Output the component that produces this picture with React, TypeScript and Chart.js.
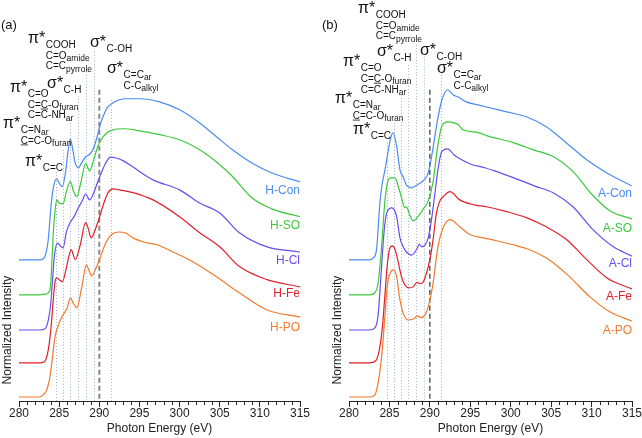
import React, { useEffect, useRef } from 'react';
import { Chart, registerables } from 'chart.js';
Chart.register(...registerables);

const FONT = '"Liberation Sans", Arial, sans-serif';

// ---------- data (energy eV, normalized intensity above own baseline) ----------
const H_CON = [[280,0],[282.5,0],[283.1,0.05],[283.45,0.29],[283.65,0.6],[283.86,1.2],[284.0,1.6],[284.3,2.12],[284.7,2.35],[285.0,2.23],[285.4,2.12],[285.8,2.55],[286.1,3.13],[286.4,3.5],[286.7,3.19],[287.0,2.81],[287.4,2.67],[287.8,2.81],[288.3,2.99],[288.7,3.04],[289.2,3.19],[289.7,3.54],[290.1,3.91],[290.5,4.17],[291.0,4.41],[291.5,4.52],[292.5,4.64],[293.4,4.67],[295,4.67],[297.5,4.58],[300,4.35],[302.5,3.97],[304.6,3.57],[306.6,3.19],[309,2.81],[311.5,2.52],[315,2.26]];
const H_SO = [[280,0],[282.5,0],[283.3,0.02],[283.86,0.14],[284.07,0.82],[284.27,1.8],[284.5,2.46],[284.7,2.75],[285.1,2.64],[285.5,2.64],[285.9,2.99],[286.4,3.28],[286.8,2.99],[287.2,2.84],[287.7,3.25],[288.3,3.8],[288.8,3.59],[289.3,3.91],[289.8,4.29],[290.3,4.52],[291,4.7],[291.7,4.78],[293,4.81],[295,4.75],[297.5,4.64],[300,4.49],[302.5,4.2],[305,3.77],[306.5,3.45],[309,2.81],[311.5,2.49],[315,2.26]];
const H_CL = [[280,0],[282.5,0],[283.2,0.03],[283.65,0.29],[284.0,0.87],[284.15,1.36],[284.4,2.13],[284.8,2.52],[285.2,2.43],[285.5,2.38],[285.9,2.84],[286.4,3.13],[286.9,3.3],[287.3,3.5],[287.9,3.75],[288.3,3.94],[288.8,3.77],[289.3,3.97],[289.8,4.29],[290.3,4.58],[290.8,4.84],[291.4,5.01],[292.0,4.99],[293,4.9],[294.2,4.72],[296.7,4.35],[300,4.06],[302.5,3.68],[305,3.39],[307.5,2.81],[310.9,2.41],[315,2.26]];
const H_FE = [[280,0],[282.5,0],[283.2,0.04],[283.65,0.38],[284.0,1.05],[284.27,1.83],[284.5,2.36],[284.7,2.46],[285.0,2.41],[285.4,2.35],[285.9,2.75],[286.5,3.28],[287.0,2.99],[287.6,3.39],[288.3,4.06],[288.6,3.91],[289.0,3.62],[289.5,3.86],[290.0,4.2],[290.5,4.58],[291.1,4.93],[291.7,5.04],[292.5,5.01],[294.2,4.93],[296.7,4.72],[300,4.23],[302.5,3.77],[305,3.36],[307.5,2.78],[310.9,2.41],[315,2.2]];
const H_PO = [[280,0],[282.5,0],[283.0,0.06],[283.45,0.2],[283.86,0.6],[284.15,1.1],[284.45,1.7],[284.75,1.97],[285.1,2.2],[285.5,2.38],[286.0,2.58],[286.4,2.87],[286.8,2.7],[287.2,2.58],[287.8,3.16],[288.4,3.83],[288.7,3.68],[289.05,3.51],[289.6,3.74],[290.1,4.03],[290.8,4.46],[291.5,4.7],[292.4,4.78],[293.3,4.75],[294.2,4.61],[295.5,4.49],[297.2,4.41],[299.2,4.2],[301.7,3.91],[304.6,3.48],[307.5,3.01],[310.9,2.52],[315,2.32]];

const A_CON = [[280,0],[282.5,0],[283.0,0.06],[283.4,0.29],[283.8,1.6],[284.1,2.2],[284.45,2.61],[284.7,2.95],[285.1,3.48],[285.45,3.68],[285.9,3.28],[286.3,2.61],[286.7,2.41],[287.1,2.17],[287.7,2.09],[288.2,2.14],[288.8,2.23],[289.3,2.32],[289.8,2.52],[290.4,3.25],[291.0,4.12],[291.5,4.64],[292.2,4.93],[292.9,4.78],[293.5,4.72],[294.5,4.58],[296,4.49],[297,4.43],[299.5,4.29],[302,4.14],[304.4,3.86],[306.9,3.39],[309.4,2.9],[311.9,2.52],[315,2.14]];
const A_SO = [[280,0],[282.5,0],[283.2,0.06],[283.6,0.35],[284.0,1.3],[284.4,2.61],[284.7,3.19],[285.1,3.39],[285.7,3.39],[286.1,3.13],[286.5,2.81],[286.9,2.52],[287.1,2.55],[287.5,2.32],[287.95,2.14],[288.6,2.29],[289.2,2.49],[289.8,2.72],[290.4,3.28],[291.0,4.35],[291.5,4.9],[292.2,5.01],[293.5,4.93],[294.1,4.78],[296,4.7],[297,4.61],[300.3,4.41],[302.8,4.2],[305.3,4.0],[307.7,3.57],[310.2,2.87],[312.3,2.43],[315,2.2]];
const A_CL = [[280,0],[282.5,0],[283.2,0.06],[283.6,0.43],[284.0,1.74],[284.3,2.75],[284.6,3.33],[284.95,3.51],[285.3,3.54],[285.9,3.28],[286.3,2.67],[286.7,2.41],[287.1,2.26],[287.75,2.17],[288.4,2.35],[288.7,2.49],[289.0,2.41],[289.4,2.46],[289.8,2.67],[290.2,3.19],[290.6,3.91],[291.0,4.64],[291.45,5.16],[292.2,5.25],[293.0,5.07],[293.5,4.99],[295.0,4.81],[296.8,4.7],[298,4.61],[300.7,4.38],[303,4.17],[305.3,3.97],[307.7,3.57],[310.2,2.9],[312.7,2.41],[315,2.14]];
const A_FE = [[280,0],[282.5,0],[283.3,0.06],[283.7,0.32],[284.1,0.96],[284.4,1.83],[284.7,2.75],[285.0,3.28],[285.35,3.39],[285.7,3.28],[286.1,2.9],[286.5,2.49],[286.9,2.26],[287.4,2.17],[287.95,2.2],[288.4,2.33],[288.8,2.29],[289.2,2.35],[289.6,2.61],[290.0,2.99],[290.4,3.57],[290.8,4.32],[291.2,4.67],[291.65,4.81],[292.5,4.96],[293.7,4.72],[295.4,4.58],[297,4.52],[299.5,4.38],[302,4.2],[304.4,3.94],[306.9,3.57],[309.4,2.99],[311.9,2.46],[315,2.14]];
const A_PO = [[280,0],[282.5,0],[283.2,0.06],[283.6,0.41],[284.0,1.07],[284.25,1.74],[284.65,3.01],[284.85,3.39],[285.1,3.59],[285.5,3.68],[285.9,3.48],[286.3,2.81],[286.7,2.43],[287.3,2.23],[287.95,2.26],[288.5,2.35],[288.9,2.3],[289.4,2.38],[289.8,2.61],[290.4,3.3],[291.0,4.35],[291.7,4.93],[292.5,5.14],[293.7,4.93],[295,4.7],[296.6,4.61],[297.8,4.55],[300.3,4.41],[302.4,4.26],[304.8,3.97],[307.3,3.48],[309.8,2.9],[312.3,2.46],[315,2.2]];

const SERIES_A = [H_CON, H_SO, H_CL, H_FE, H_PO];
const SERIES_B = [A_CON, A_SO, A_CL, A_FE, A_PO];
const NAMES_A = ['H-Con', 'H-SO', 'H-Cl', 'H-Fe', 'H-PO'];
const NAMES_B = ['A-Con', 'A-SO', 'A-Cl', 'A-Fe', 'A-PO'];
const OFFSETS = [3.97, 2.96, 1.94, 0.99, 0];
const COLORS = ['#4a8cf0', '#3cc83c', '#6a4cf0', '#e0202c', '#f07a2a'];

const X_MIN = 280, X_MAX = 315, X_STEP = 5;
const Y_MIN = -0.116, Y_MAX = 11.5;

// feature energies (dotted guide lines) and their top ends
const FEAT_E_A = [284.6, 285.5, 286.4, 287.3, 288.3, 289.3, 291.5];
const FEAT_TOP_A = [6.52, 7.16, 8.03, 8.72, 9.33, 10.0, 8.6];
const FEAT_E_B = [284.7, 285.6, 286.4, 287.3, 288.3, 289.3, 291.4];
const FEAT_TOP_B = [7.36, 7.94, 8.75, 9.62, 10.2, 9.86, 9.33];
const IP_E = 290;
const IP_TOP = 8.9;

type Line = { t: string; sub?: string; u?: number };
type Group = { e: number; v: number; sym: string; lines: Line[] };

const L_COOH: Line[] = [{ t: 'COOH' }, { t: 'C=O', sub: 'amide' }, { t: 'C=C', sub: 'pyrrole' }];
const L_COH: Line[] = [{ t: 'C-OH' }];
const L_CCAR: Line[] = [{ t: 'C=C', sub: 'ar' }, { t: 'C-C', sub: 'alkyl' }];
const L_CO: Line[] = [{ t: 'C=O' }, { t: 'C=C-O', sub: 'furan', u: 2 }, { t: 'C=C-NH', sub: 'ar' }];
const L_CH: Line[] = [{ t: 'C-H' }];
const L_CN: Line[] = [{ t: 'C=N', sub: 'ar' }, { t: 'C=C-O', sub: 'furan', u: 0 }];
const L_CC: Line[] = [{ t: 'C=C' }];

const GROUPS_A: Group[] = [
  { e: 281.12, v: 10.26, sym: 'π*', lines: L_COOH },
  { e: 288.84, v: 10.14, sym: 'σ*', lines: L_COH },
  { e: 290.96, v: 9.39, sym: 'σ*', lines: L_CCAR },
  { e: 278.88, v: 8.84, sym: 'π*', lines: L_CO },
  { e: 283.49, v: 8.96, sym: 'σ*', lines: L_CH },
  { e: 278.0, v: 7.8, sym: 'π*', lines: L_CN },
  { e: 280.75, v: 6.7, sym: 'π*', lines: L_CC },
];
const GROUPS_B: Group[] = [
  { e: 281.11, v: 11.13, sym: 'π*', lines: L_COOH },
  { e: 283.46, v: 9.88, sym: 'σ*', lines: L_CH },
  { e: 288.78, v: 9.91, sym: 'σ*', lines: L_COH },
  { e: 290.88, v: 9.39, sym: 'σ*', lines: L_CCAR },
  { e: 279.26, v: 9.59, sym: 'π*', lines: L_CO },
  { e: 278.27, v: 8.52, sym: 'π*', lines: L_CN },
  { e: 280.49, v: 7.62, sym: 'π*', lines: L_CC },
];

type PanelCfg = {
  series: number[][][];
  names: string[];
  featE: number[];
  featTop: number[];
  groups: Group[];
  tag: string;
  ipColor: string;
  ipWidth: number;
  labelLift: number;
  padL: number;
  padR: number;
};

const makePlugin = (cfg: PanelCfg) => ({
  id: 'nexafsDecor',
  beforeDatasetsDraw(chart: any) {
    const { ctx, chartArea, scales } = chart;
    const x = scales.x, y = scales.y;
    ctx.save();
    ctx.strokeStyle = '#a3b3c6';
    ctx.lineWidth = 1;
    ctx.setLineDash([1, 2]);
    cfg.featE.forEach((e, i) => {
      const px = Math.round(x.getPixelForValue(e)) + 0.5;
      ctx.beginPath();
      ctx.moveTo(px, y.getPixelForValue(cfg.featTop[i]));
      ctx.lineTo(px, chartArea.bottom);
      ctx.stroke();
    });
    ctx.strokeStyle = cfg.ipColor;
    ctx.lineWidth = cfg.ipWidth;
    ctx.setLineDash([5, 3]);
    const ipx = x.getPixelForValue(IP_E);
    ctx.beginPath();
    ctx.moveTo(ipx, y.getPixelForValue(IP_TOP));
    ctx.lineTo(ipx, chartArea.bottom);
    ctx.stroke();
    ctx.restore();
  },
  afterDraw(chart: any) {
    const { ctx, chartArea, scales } = chart;
    const x = scales.x, y = scales.y;
    ctx.save();
    // minor ticks
    ctx.strokeStyle = '#222';
    ctx.lineWidth = 1;
    for (let e = X_MIN + 1; e < X_MAX; e++) {
      if (e % X_STEP === 0) continue;
      const px = Math.round(x.getPixelForValue(e)) + 0.5;
      ctx.beginPath();
      ctx.moveTo(px, chartArea.bottom);
      ctx.lineTo(px, chartArea.bottom + 4);
      ctx.stroke();
    }
    // annotations
    ctx.fillStyle = '#111';
    ctx.textBaseline = 'alphabetic';
    ctx.textAlign = 'left';
    cfg.groups.forEach((g) => {
      const gx = x.getPixelForValue(g.e);
      const gy = y.getPixelForValue(g.v);
      ctx.font = `16px ${FONT}`;
      ctx.fillText(g.sym, gx, gy);
      const lx = gx + ctx.measureText(g.sym).width + 0.5;
      let ly = gy + 5;
      g.lines.forEach((ln) => {
        ctx.font = `10px ${FONT}`;
        ctx.fillText(ln.t, lx, ly);
        const w = ctx.measureText(ln.t).width;
        if (ln.u !== undefined) {
          const pre = ctx.measureText(ln.t.slice(0, ln.u)).width;
          const cw = ctx.measureText(ln.t[ln.u]).width;
          ctx.fillRect(lx + pre, ly + 1, cw, 0.8);
        }
        if (ln.sub) {
          ctx.font = `8.5px ${FONT}`;
          ctx.fillText(ln.sub, lx + w, ly + 2.5);
        }
        ly += 10.8;
      });
    });
    // series labels
    ctx.font = `12px ${FONT}`;
    ctx.textAlign = 'right';
    cfg.names.forEach((n, i) => {
      ctx.fillStyle = COLORS[i];
      ctx.fillText(n, chartArea.right, y.getPixelForValue(OFFSETS[i] + cfg.labelLift));
    });
    // panel tag
    ctx.fillStyle = '#111';
    ctx.textAlign = 'left';
    ctx.font = `13px ${FONT}`;
    ctx.fillText(cfg.tag, 1, 29);
    // y title
    ctx.font = `12px ${FONT}`;
    ctx.fillStyle = '#222';
    ctx.textAlign = 'center';
    ctx.textBaseline = 'middle';
    ctx.translate(chartArea.left - 11, y.getPixelForValue(1.94));
    ctx.rotate(-Math.PI / 2);
    ctx.fillText('Normalized Intensity', 0, 0);
    ctx.restore();
  },
});

function Panel({ cfg }: { cfg: PanelCfg }) {
  const ref = useRef<HTMLCanvasElement>(null);
  useEffect(() => {
    if (!ref.current) return;
    const chart = new Chart(ref.current, {
      type: 'line',
      data: {
        datasets: cfg.series.map((s, i) => ({
          label: cfg.names[i],
          data: s.map(([e, v]) => ({ x: e, y: v + OFFSETS[i] })),
          borderColor: COLORS[i],
          backgroundColor: COLORS[i],
          borderWidth: 1.2,
          pointRadius: 0,
          fill: false,
          tension: 0.4,
          cubicInterpolationMode: 'monotone',
        })),
      },
      options: {
        animation: false,
        responsive: false,
        events: [],
        layout: { padding: { left: cfg.padL, right: cfg.padR, top: 0, bottom: 0 } },
        plugins: { legend: { display: false }, tooltip: { enabled: false } },
        scales: {
          x: {
            type: 'linear',
            min: X_MIN,
            max: X_MAX,
            ticks: {
              stepSize: X_STEP,
              font: { family: FONT, size: 12 },
              color: '#222',
              padding: -1,
              maxRotation: 0,
              autoSkip: false,
            },
            grid: { drawOnChartArea: false, tickLength: 6, color: '#222', tickWidth: 1 },
            border: { display: true, color: '#222', width: 1 },
            title: {
              display: true,
              text: 'Photon Energy (eV)',
              font: { family: FONT, size: 12 },
              color: '#222',
              padding: { top: 0, bottom: 2 },
            },
            afterFit: (s: any) => {
              s.height = 37;
              s.paddingLeft = 0;
              s.paddingRight = 0;
            },
          },
          y: { display: false, min: Y_MIN, max: Y_MAX },
        },
      } as any,
      plugins: [makePlugin(cfg)],
    } as any);
    return () => chart.destroy();
  }, [cfg]);
  return <canvas ref={ref} width={321} height={438} style={{ display: 'block' }} />;
}

const CFG_A: PanelCfg = {
  series: SERIES_A, names: NAMES_A, featE: FEAT_E_A, featTop: FEAT_TOP_A, groups: GROUPS_A,
  tag: '(a)', ipColor: '#8a8a8a', ipWidth: 2, labelLift: 1.9, padL: 19, padR: 21,
};
const CFG_B: PanelCfg = {
  series: SERIES_B, names: NAMES_B, featE: FEAT_E_B, featTop: FEAT_TOP_B, groups: GROUPS_B,
  tag: '(b)', ipColor: '#333333', ipWidth: 1.2, labelLift: 1.83, padL: 28, padR: 10,
};

export default function App() {
  return (
    <div style={{ position: 'absolute', left: 0, top: 0, width: 642, height: 438, background: '#fff' }}>
      <div style={{ position: 'absolute', left: 0, top: 0 }}>
        <Panel cfg={CFG_A} />
      </div>
      <div style={{ position: 'absolute', left: 321, top: 0 }}>
        <Panel cfg={CFG_B} />
      </div>
    </div>
  );
}
